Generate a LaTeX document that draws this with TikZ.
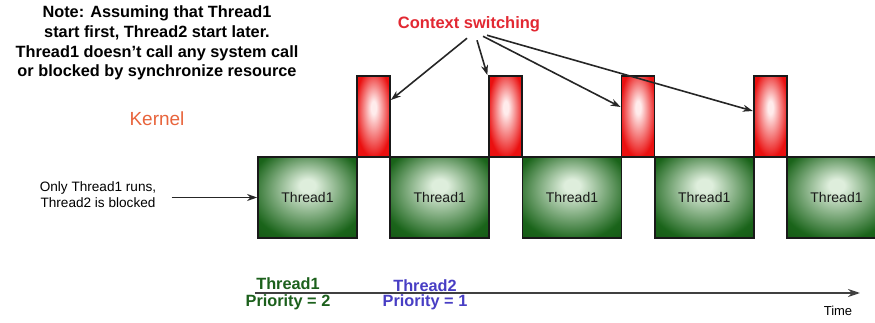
\documentclass[tikz,border=0pt]{standalone}
\usepackage{fontspec}
\setmainfont{Liberation Sans}
\usetikzlibrary{arrows.meta}
\definecolor{thrdark}{RGB}{26,100,26}
\definecolor{thrdeep}{RGB}{14,70,14}
\definecolor{thrlight}{RGB}{222,238,220}
\definecolor{swdark}{RGB}{234,16,16}
\definecolor{swlight}{RGB}{255,236,236}
\definecolor{kernelorange}{RGB}{232,100,60}
\definecolor{cswred}{RGB}{226,40,50}
\definecolor{prioblue}{RGB}{72,62,196}
\definecolor{priogreen}{RGB}{28,96,28}
\pgfdeclareradialshading{thrglow}{\pgfpoint{0bp}{8bp}}{color(0bp)=(thrlight); color(4bp)=(thrlight); color(30bp)=(thrdark); color(50bp)=(thrdeep)}
\pgfdeclareradialshading{swglow}{\pgfpoint{0bp}{6bp}}{color(0bp)=(swlight); color(4bp)=(swlight); color(28bp)=(swdark); color(50bp)=(swdark)}

\begin{document}
\begin{tikzpicture}[x=1pt,y=-1pt,
  thr/.style={draw=black!90,line width=1.8pt,shade,shading=thrglow,minimum width=99pt,minimum height=81pt,font=\fontsize{14}{16}\selectfont,text=black!90},
  sw/.style={draw=black!90,line width=1.8pt,shade,shading=swglow,minimum width=33pt,minimum height=81pt},
  arr/.style={-{Stealth[length=10pt,width=7pt]},line width=1.6pt,black!85}]
  \clip (0,0) rectangle (875,323);
  \node[font=\bfseries\fontsize{16.3}{19.8}\selectfont,align=center] (note) at (157,43)
    {Note: Assuming that Thread1\\start first, Thread2 start later.\\Thread1 doesn't call any system call\\or blocked by synchronize resource};
  \node[font=\fontsize{19}{22}\selectfont,text=kernelorange] (kernel) at (157,119) {Kernel};
  \node[font=\bfseries\fontsize{16.5}{20}\selectfont,text=cswred] (cs) at (469,24) {Context switching};
  \node[font=\fontsize{13.6}{16}\selectfont,align=center] (blk) at (98,195) {Only Thread1 runs,\\Thread2 is blocked};

  \node[thr] (g1) at (307.5,197.5) {Thread1};
  \node[sw]  (r1) at (373.5,116.5) {};
  \node[thr] (g2) at (439.75,197.5) {Thread1};
  \node[sw]  (r2) at (505.75,116.5) {};
  \node[thr] (g3) at (572,197.5) {Thread1};
  \node[sw]  (r3) at (638,116.5) {};
  \node[thr] (g4) at (704.25,197.5) {Thread1};
  \node[sw]  (r4) at (770.25,116.5) {};
  \node[thr] (g5) at (836.5,197.5) {Thread1};

  \draw[arr,shorten <=12pt] (blk.east |- g1.west) -- (g1.west);
  \draw[arr] ([xshift=-2pt,yshift=-3pt]cs.south) -- ([yshift=16.5pt]r1.east);
  \draw[arr] ([xshift=8pt,yshift=-5pt]cs.south) -- ([xshift=-1pt]r2.north west);
  \draw[arr] ([xshift=14pt,yshift=-1pt]cs.south) -- ([yshift=9.5pt]r3.west);
  \draw[arr] ([xshift=18pt,yshift=0pt]cs.south) -- ([yshift=5.5pt]r4.west);

  \coordinate (t0) at (255,293);
  \coordinate (t1) at (860,293);
  \draw[line width=1.9pt,black!75,-{Stealth[length=12pt,width=8pt]}] (t0) -- (t1);
  \node[font=\fontsize{13}{15}\selectfont] (time) at (838,311) {Time};
  \node[font=\bfseries\fontsize{16.3}{17}\selectfont,text=priogreen,align=center] (p1) at (288,293.5) {Thread1\\Priority = 2};
  \node[font=\bfseries\fontsize{16.3}{15}\selectfont,text=prioblue,align=center] (p2) at (425,294.5) {Thread2\\Priority = 1};
\end{tikzpicture}
\end{document}
